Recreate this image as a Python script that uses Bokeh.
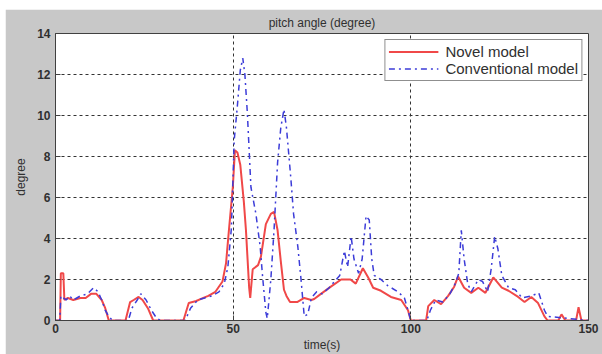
from bokeh.plotting import figure
from bokeh.models import Range1d, FixedTicker, Legend, LegendItem
from bokeh.embed import file_html
from bokeh.resources import INLINE

title_text = "pitch angle (degree)"
x_label = "time(s)"
y_label = "degree"
x_ticks = [0, 50, 100, 150]
y_ticks = [0, 2, 4, 6, 8, 10, 12, 14]

t_novel = [0, 1.3, 1.5, 2.2, 2.5, 3.5, 5, 7, 8.5, 10,
           11.5, 13, 14, 15, 19.7, 21, 22, 23.4, 24.5, 26,
           27.5, 36, 37.5, 39.6, 41.6, 43, 45, 47, 48, 48.8,
           49.9, 50.5, 51.2, 52, 53, 53.6, 54.5, 54.8, 55.5, 57,
           57.8, 59.2, 60.6, 61.5, 62.5, 63.4, 64.3, 65, 66, 68,
           70, 72, 72.8, 74.7, 77.5, 80.4, 83, 84.5, 86.5, 88,
           89.4, 91.6, 94.4, 97.3, 99.2, 100, 104.3, 104.9, 106.6, 108.5,
           110.5, 112.2, 113.3, 115, 117, 119, 121, 123.2, 125.6, 127.5,
           130.2, 132, 133.9, 135.8, 137.6, 138.5, 141.5, 142.4, 143.5, 146.5,
           147.2, 148, 150]
y_novel = [0, 0, 2.3, 2.3, 1.0, 1.1, 1.0, 1.1, 1.1, 1.3,
           1.3, 1.0, 0.6, 0, 0, 0.9, 1.0, 1.15, 1.0, 0.6,
           0, 0, 0.85, 0.95, 1.1, 1.2, 1.4, 1.9, 2.8, 4.4,
           6.5, 8.3, 8.2, 7.6, 5.8, 4.4, 1.6, 1.1, 2.5, 2.7,
           3.1, 4.7, 5.2, 5.3, 4.4, 2.9, 1.5, 1.2, 0.9, 0.9,
           1.1, 1.0, 1.05, 1.3, 1.65, 2.0, 2.0, 1.8, 2.55, 2.1,
           1.6, 1.45, 1.15, 1.0, 0.5, 0, 0, 0.7, 1.0, 0.8,
           1.2, 1.65, 2.15, 1.6, 1.35, 1.6, 1.35, 2.1, 1.6, 1.45,
           1.15, 0.9, 1.15, 0.85, 0.2, 0, 0, 0.3, 0, 0,
           0.65, 0, 0]

t_conv = [0, 1.2, 1.5, 3, 4, 5, 7, 9, 10.7, 12,
          13, 14, 15, 16, 20.5, 21.5, 23, 24, 25.5, 27,
          28.5, 29.6, 36.5, 38, 40, 42, 44, 46, 47.5, 48.5,
          49.5, 50.3, 51.2, 52, 52.7, 53.3, 54, 55, 56.4, 57.6,
          58.3, 59.2, 59.6, 60.6, 61.5, 62.5, 63.4, 64.3, 65, 66.2,
          67, 68.2, 69.1, 70, 71, 72, 73.5, 75, 77, 79,
          80, 81.3, 82.2, 83.2, 84, 85.3, 86.3, 87.4, 88.3, 89,
          89.7, 91.6, 93.5, 96.4, 98.2, 99.2, 100, 104.5, 105.5, 107,
          109, 111, 112.5, 113.5, 114.2, 115, 116, 117, 119, 120.2,
          121.6, 122.6, 123.6, 124.5, 125.6, 127.5, 129.4, 131.3, 134, 136,
          137.6, 138.5, 150]
y_conv = [0, 0, 1.2, 1.0, 1.2, 1.0, 1.2, 1.3, 1.6, 1.4,
          1.0, 0.5, 0.2, 0, 0, 0.6, 1.0, 1.3, 1.0, 0.5,
          0.1, 0, 0, 0.6, 1.0, 1.1, 1.2, 1.4, 1.8, 2.6,
          4.5, 8.8, 10.5, 12.2, 12.8, 12.0, 10.1, 6.5, 5.2, 3.6,
          2.1, 0.4, 0.1, 2.0, 4.4, 7.7, 9.4, 10.3, 9.4, 7.0,
          5.2, 3.6, 2.0, 0.2, 0.3, 1.1, 1.4, 1.3, 1.6, 2.0,
          2.2, 3.4, 2.6, 4.1, 3.0, 2.3, 3.0, 5.1, 4.9, 3.0,
          2.2, 2.0, 1.7, 1.4, 1.1, 0.5, 0, 0, 0.5, 1.0,
          0.9, 1.3, 1.8, 2.3, 4.4, 3.0, 1.8, 1.4, 2.0, 1.9,
          1.4, 2.5, 4.1, 3.5, 2.2, 1.6, 1.5, 1.1, 1.2, 1.35,
          0.5, 0.2, 0]

series_names = ["Novel model", "Conventional model"]

FONT = "Liberation Sans"
GRAY_TXT = "#303030"

p = figure(width=597, height=345, output_backend="svg", toolbar_location=None,
           x_range=Range1d(0, 150), y_range=Range1d(0, 14),
           min_border_left=50, min_border_right=14, min_border_top=24, min_border_bottom=33,
           title=title_text)
p.margin = (9, 0, 0, 5)
p.border_fill_color = "#c8c8c8"
p.background_fill_color = "white"
p.outline_line_color = "#404040"
p.outline_line_width = 1

p.title.align = "center"
p.title.text_font = FONT
p.title.text_font_size = "12px"
p.title.text_font_style = "normal"
p.title.text_color = GRAY_TXT
p.title.standoff = 8

for ax in (p.xaxis[0], p.yaxis[0]):
    ax.major_tick_in = 5
    ax.major_tick_out = 0
    ax.minor_tick_in = 0
    ax.minor_tick_out = 0
    ax.axis_line_color = "#404040"
    ax.major_tick_line_color = "#404040"
    ax.major_label_text_font = FONT
    ax.major_label_text_font_size = "12px"
    ax.major_label_text_font_style = "bold"
    ax.major_label_text_color = GRAY_TXT
    ax.axis_label_text_font = FONT
    ax.axis_label_text_font_size = "12px"
    ax.axis_label_text_font_style = "normal"
    ax.axis_label_text_color = GRAY_TXT

p.xaxis.ticker = FixedTicker(ticks=x_ticks)
p.yaxis.ticker = FixedTicker(ticks=y_ticks)
p.xaxis.axis_label = x_label
p.yaxis.axis_label = y_label
p.xaxis.major_label_standoff = 3
p.yaxis.major_label_standoff = 5
p.xaxis.axis_label_standoff = 2
p.yaxis.axis_label_standoff = 6

p.grid.grid_line_color = "#333333"
p.grid.grid_line_dash = "3 3"
p.grid.grid_line_width = 1

r1 = p.line(t_novel, y_novel, line_color="#f04848", line_width=2)
r2 = p.line(t_conv, y_conv, line_color="#3c3cd8", line_width=1.5, line_dash="6 4 2 4")

legend = Legend(items=[LegendItem(label=series_names[0], renderers=[r1]),
                       LegendItem(label=series_names[1], renderers=[r2])],
                location="top_right")
legend.margin = 6
legend.padding = 3
legend.spacing = 0
legend.glyph_width = 50
legend.glyph_height = 15
legend.label_height = 15
legend.label_standoff = 7
legend.label_text_font = FONT
legend.label_text_font_size = "15px"
legend.label_text_color = GRAY_TXT
legend.border_line_color = "#202020"
legend.border_line_width = 1
legend.background_fill_color = "white"
legend.background_fill_alpha = 1
p.add_layout(legend)

open("out.html", "w").write(file_html(p, INLINE))
